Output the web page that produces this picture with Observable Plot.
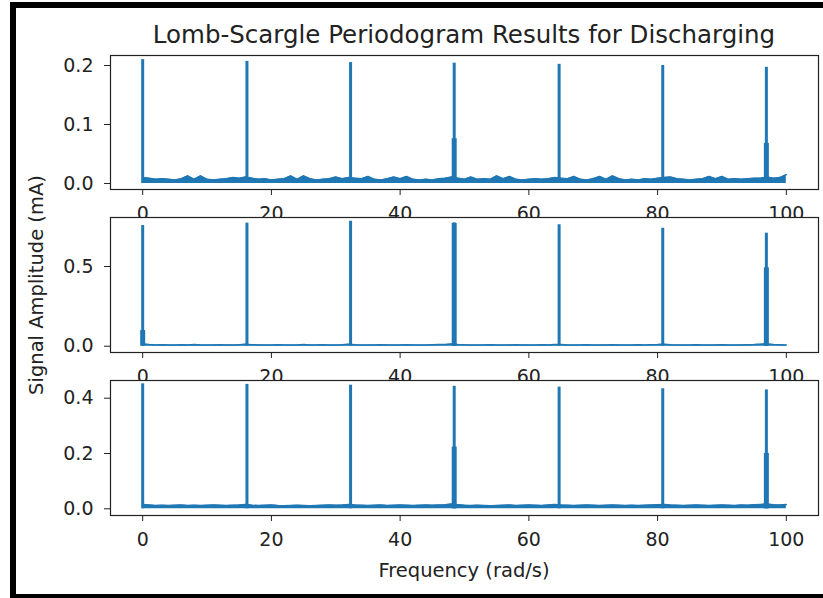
<!DOCTYPE html>
<html>
<head>
<meta charset="utf-8">
<script src="https://cdn.jsdelivr.net/npm/d3@7"></script>
<script src="https://cdn.jsdelivr.net/npm/@observablehq/plot@0.6"></script>
<style>
  html, body { margin: 0; padding: 0; background: #fff; }
  #fig { position: relative; width: 823px; height: 598px; overflow: hidden; background: #fff;
         font-family: "DejaVu Sans", sans-serif; color: #222; }
  .panel { position: absolute; left: 0; width: 823px; }
  .bar { position: absolute; background: #000; }
  .txt { position: absolute; white-space: nowrap; line-height: 1; }
</style>
</head>
<body>
<div id="fig"></div>
<script>
// Frequency axis ticks (rad/s)
const xTicks = [0, 20, 40, 60, 80, 100];

// Y ticks per subplot (mA)
const yTicks1 = [0, 0.1, 0.2];
const yTicks2 = [0, 0.5];
const yTicks3 = [0, 0.2, 0.4];

// Frequencies of the periodogram peaks (rad/s), shared by all three channels
const peakFreq = [0, 16.2, 32.3, 48.4, 64.7, 80.8, 96.9];

// Peak amplitudes (mA)
const peaks1 = [0.210, 0.207, 0.205, 0.204, 0.202, 0.200, 0.197];
const peaks2 = [0.757, 0.772, 0.784, 0.774, 0.762, 0.740, 0.709];
const peaks3 = [0.452, 0.450, 0.447, 0.443, 0.440, 0.434, 0.430];

// Broadened lower parts of some peaks (frequency, amplitude)
const shoulderFreq1 = [48.4, 96.9];
const shoulders1 = [0.076, 0.068];
const shoulderFreq2 = [0, 48.4, 96.9];
const shoulders2 = [0.098, 0.770, 0.492];
const shoulderFreq3 = [48.4, 96.9];
const shoulders3 = [0.223, 0.200];

// Noise floor, upper envelope sampled every 1 rad/s from 0 to 100
const base1 = [
  0.010, 0.009, 0.007, 0.008, 0.007, 0.006, 0.008, 0.013, 0.007, 0.013,
  0.007, 0.006, 0.007, 0.008, 0.010, 0.009, 0.011, 0.009, 0.007, 0.008,
  0.006, 0.007, 0.008, 0.013, 0.007, 0.013, 0.008, 0.006, 0.007, 0.008,
  0.011, 0.008, 0.010, 0.009, 0.008, 0.012, 0.007, 0.006, 0.008, 0.011,
  0.008, 0.012, 0.007, 0.006, 0.007, 0.006, 0.008, 0.009, 0.011, 0.009,
  0.007, 0.011, 0.007, 0.008, 0.007, 0.013, 0.008, 0.012, 0.007, 0.006,
  0.007, 0.008, 0.007, 0.008, 0.010, 0.009, 0.008, 0.012, 0.007, 0.006,
  0.008, 0.012, 0.007, 0.013, 0.008, 0.006, 0.007, 0.006, 0.008, 0.007,
  0.009, 0.010, 0.011, 0.008, 0.007, 0.006, 0.007, 0.008, 0.012, 0.008,
  0.012, 0.007, 0.008, 0.007, 0.008, 0.009, 0.009, 0.011, 0.009, 0.010,
  0.015
];
const base2 = [
  0.014, 0.010, 0.008, 0.009, 0.008, 0.007, 0.009, 0.008, 0.010, 0.008,
  0.007, 0.008, 0.009, 0.008, 0.007, 0.009, 0.012, 0.009, 0.008, 0.007,
  0.008, 0.009, 0.008, 0.007, 0.008, 0.010, 0.008, 0.007, 0.009, 0.008,
  0.008, 0.009, 0.012, 0.009, 0.008, 0.007, 0.008, 0.009, 0.008, 0.007,
  0.008, 0.009, 0.008, 0.007, 0.008, 0.009, 0.010, 0.011, 0.014, 0.011,
  0.009, 0.008, 0.007, 0.008, 0.009, 0.008, 0.007, 0.008, 0.009, 0.008,
  0.007, 0.008, 0.009, 0.008, 0.011, 0.010, 0.008, 0.007, 0.008, 0.009,
  0.008, 0.007, 0.008, 0.009, 0.008, 0.007, 0.008, 0.009, 0.008, 0.009,
  0.010, 0.012, 0.009, 0.008, 0.007, 0.008, 0.009, 0.008, 0.007, 0.008,
  0.009, 0.008, 0.007, 0.008, 0.009, 0.010, 0.013, 0.014, 0.010, 0.009,
  0.008
];
const base3 = [
  0.016, 0.014, 0.012, 0.013, 0.012, 0.013, 0.014, 0.012, 0.013, 0.012,
  0.013, 0.014, 0.013, 0.012, 0.013, 0.014, 0.016, 0.013, 0.012, 0.013,
  0.014, 0.012, 0.011, 0.012, 0.013, 0.012, 0.011, 0.012, 0.013, 0.014,
  0.013, 0.014, 0.016, 0.014, 0.013, 0.012, 0.013, 0.014, 0.012, 0.013,
  0.014, 0.013, 0.012, 0.013, 0.014, 0.013, 0.014, 0.015, 0.017, 0.015,
  0.013, 0.012, 0.013, 0.012, 0.011, 0.012, 0.013, 0.014, 0.012, 0.013,
  0.014, 0.013, 0.012, 0.014, 0.016, 0.014, 0.013, 0.012, 0.013, 0.014,
  0.013, 0.012, 0.013, 0.014, 0.013, 0.012, 0.013, 0.012, 0.013, 0.014,
  0.015, 0.016, 0.014, 0.013, 0.012, 0.013, 0.014, 0.013, 0.012, 0.013,
  0.014, 0.013, 0.012, 0.014, 0.013, 0.015, 0.016, 0.017, 0.015, 0.014,
  0.016
];

const blue = "#1f77b4";
const ink = "#222";
const fig = document.getElementById("fig");

const rows = (xs, ys) => xs.map((f, i) => ({f, v: ys[i]}));
const baseFreq = d3.range(0, 101);

// Subplot layout: top of the frame, frame height and y extent
const panels = [
  {top: 55,  h: 134, domain: [-0.0102, 0.217], ticks: yTicks1, base: base1, peaks: peaks1, sf: shoulderFreq1, sv: shoulders1},
  {top: 217, h: 135, domain: [-0.0395, 0.8074], ticks: yTicks2, base: base2, peaks: peaks2, sf: shoulderFreq2, sv: shoulders2},
  {top: 380, h: 135, domain: [-0.0242, 0.464], ticks: yTicks3, base: base3, peaks: peaks3, sf: shoulderFreq3, sv: shoulders3}
];

const mTop = 12, mBottom = 45;

for (const p of panels) {
  const floor = rows(baseFreq, p.base);
  const spikes = rows(peakFreq, p.peaks);
  const wide = rows(p.sf, p.sv);
  const chart = Plot.plot({
    width: 823,
    height: mTop + p.h + mBottom,
    marginTop: mTop,
    marginBottom: mBottom,
    marginLeft: 110,
    marginRight: 5,
    x: {domain: [-5, 105]},
    y: {domain: p.domain},
    style: {background: "transparent", fontFamily: "'DejaVu Sans', sans-serif", fontSize: "19px", color: ink, overflow: "visible"},
    marks: [
      Plot.frame({fill: "white", stroke: "white"}),
      Plot.areaY(floor, {x: "f", y: "v", fill: blue}),
      Plot.lineY(floor, {x: "f", y: "v", stroke: blue, strokeWidth: 1.5}),
      Plot.ruleX(wide, {x: "f", y1: 0, y2: "v", stroke: blue, strokeWidth: 5}),
      Plot.ruleX(spikes, {x: "f", y1: 0, y2: "v", stroke: blue, strokeWidth: 3}),
      Plot.axisX({ticks: xTicks, tickSize: 6, tickPadding: 11, tickFormat: d3.format("d"), label: null}),
      Plot.axisY({ticks: p.ticks, tickSize: 6, tickPadding: 11, tickFormat: d3.format(".1f"), label: null}),
      Plot.frame({stroke: ink, strokeWidth: 1.2})
    ]
  });
  const holder = document.createElement("div");
  holder.className = "panel";
  holder.style.top = (p.top - mTop) + "px";
  holder.appendChild(chart);
  fig.appendChild(holder);
}

function addText(str, css) {
  const d = document.createElement("div");
  d.className = "txt";
  d.textContent = str;
  Object.assign(d.style, css);
  fig.appendChild(d);
  return d;
}

addText("Lomb-Scargle Periodogram Results for Discharging",
  {left: "464px", top: "23px", fontSize: "24.5px", transform: "translateX(-50%)"});
addText("Frequency (rad/s)",
  {left: "464px", top: "561px", fontSize: "19.5px", transform: "translateX(-50%)"});
addText("Signal Amplitude (mA)",
  {left: "37px", top: "285px", fontSize: "19.5px", transform: "translate(-50%, -50%) rotate(-90deg)"});

// Black picture border
function bar(l, t, w, h) {
  const b = document.createElement("div");
  b.className = "bar";
  Object.assign(b.style, {left: l + "px", top: t + "px", width: w + "px", height: h + "px"});
  fig.appendChild(b);
}
bar(10, 2, 6, 596);
bar(10, 2, 813, 6);
bar(10, 594, 813, 4);
</script>
</body>
</html>
